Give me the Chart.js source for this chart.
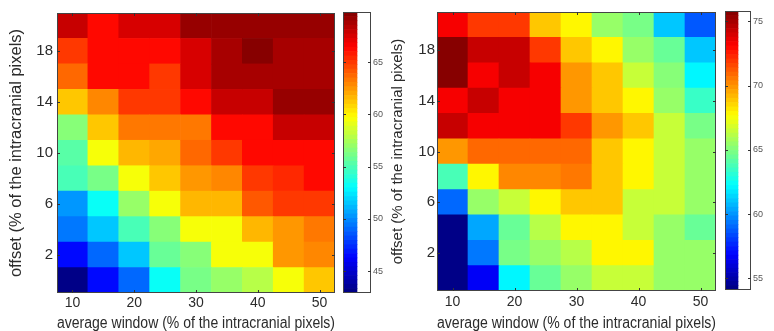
<!DOCTYPE html>
<html>
<head>
<meta charset="utf-8">
<script src="https://cdn.jsdelivr.net/npm/chart.js@4.4.1/dist/chart.umd.min.js"></script>
<style>
  html, body { margin: 0; padding: 0; background: #ffffff; }
  #wrap { position: relative; width: 774px; height: 331px; overflow: hidden; background: #fff; }
  canvas { position: absolute; top: 0; }
</style>
</head>
<body>
<div id="wrap">
  <canvas id="hmL" width="340" height="331" style="left:0px"></canvas>
  <canvas id="cbL" width="45" height="331" style="left:340px"></canvas>
  <canvas id="hmR" width="335" height="331" style="left:385px"></canvas>
  <canvas id="cbR" width="54" height="331" style="left:720px"></canvas>
</div>
<script>
// ---------- data ----------
const xCats = [10, 15, 20, 25, 30, 35, 40, 45, 50];          // average window (%)
const yRows = [0, 2, 4, 6, 8, 10, 12, 14, 16, 18, 20];       // offset (%)
const xTickLabels = [10, 20, 30, 40, 50];
const yTickLabels = [2, 6, 10, 14, 18];

// left panel values, rows from offset 0 (bottom) to 20 (top)
const leftValues = [
  [43.0, 46.3, 49.0, 53.0, 56.0, 57.0, 58.0, 59.7, 61.2],
  [46.3, 49.0, 51.7, 55.7, 56.7, 59.7, 59.7, 62.4, 62.8],
  [49.3, 51.4, 54.7, 56.7, 59.7, 59.7, 61.4, 62.4, 63.4],
  [50.3, 53.0, 57.0, 59.7, 61.4, 61.4, 64.0, 64.8, 64.8],
  [55.0, 56.0, 59.7, 61.2, 62.4, 62.8, 64.8, 65.2, 66.4],
  [55.4, 59.7, 61.4, 62.0, 63.7, 64.8, 66.4, 66.4, 66.4],
  [56.4, 61.2, 63.4, 63.4, 63.4, 66.4, 66.4, 67.8, 67.8],
  [61.2, 62.9, 64.8, 64.8, 66.2, 67.8, 67.8, 69.0, 69.0],
  [63.7, 66.4, 66.4, 64.8, 67.5, 68.8, 68.8, 68.8, 68.8],
  [64.8, 66.4, 66.4, 66.4, 67.5, 68.8, 69.5, 68.8, 68.8],
  [67.8, 66.4, 67.5, 67.5, 69.3, 69.0, 69.0, 69.0, 69.0]
];
const leftRange = [42.9, 69.8];
const leftBarTicks = [45, 50, 55, 60, 65];

// right panel values, rows from offset 0 (bottom) to 20 (top)
const rightValues = [
  [54.1, 56.8, 62.2, 64.4, 65.5, 66.4, 66.4, 65.3, 65.3],
  [54.1, 59.5, 64.8, 65.5, 66.1, 67.7, 67.7, 65.3, 65.5],
  [54.1, 60.4, 64.4, 66.1, 67.7, 67.7, 66.4, 65.3, 64.6],
  [58.9, 65.5, 66.4, 67.7, 69.0, 69.0, 66.4, 66.4, 65.3],
  [63.6, 67.7, 70.1, 70.1, 70.4, 68.8, 67.7, 66.4, 65.3],
  [69.7, 71.0, 71.0, 71.0, 71.0, 68.8, 67.7, 66.4, 65.3],
  [74.2, 73.1, 73.1, 73.1, 71.8, 70.0, 68.8, 66.4, 64.8],
  [73.1, 74.2, 73.1, 73.1, 70.0, 68.8, 67.7, 65.3, 63.3],
  [75.5, 73.1, 74.2, 73.1, 70.0, 68.8, 66.4, 65.0, 62.2],
  [75.5, 74.2, 74.2, 71.8, 68.8, 67.7, 65.3, 64.6, 60.9],
  [73.1, 71.8, 71.8, 68.8, 67.7, 65.5, 64.8, 60.9, 58.7]
];
const rightRange = [54.1, 75.8];
const rightBarTicks = [55, 60, 65, 70, 75];

const xTitle = 'average window (% of the intracranial pixels)';
const yTitle = 'offset (% of the intracranial pixels)';

// ---------- helpers ----------
const NLEV = 64;
const FONT = "'Liberation Sans', Arial, sans-serif";
const TXT = '#2b2b2b';
function clamp01(v) { return Math.max(0, Math.min(1, v)); }
function jetColor(idx) {
  const t = (idx + 0.5) / NLEV;
  const r = clamp01(1.5 - Math.abs(4 * t - 3));
  const g = clamp01(1.5 - Math.abs(4 * t - 2));
  const b = clamp01(1.5 - Math.abs(4 * t - 1));
  return `rgb(${Math.round(r * 255)},${Math.round(g * 255)},${Math.round(b * 255)})`;
}
function colorFor(v, range) {
  let idx = Math.floor((v - range[0]) / (range[1] - range[0]) * NLEV);
  idx = Math.max(0, Math.min(NLEV - 1, idx));
  return jetColor(idx);
}

const framePlugin = {
  id: 'frame',
  afterDraw(chart, args, opts) {
    const { ctx, chartArea: a } = chart;
    ctx.save();
    ctx.strokeStyle = '#444';
    ctx.lineWidth = 1;
    ctx.strokeRect(Math.round(a.left) + 0.5, Math.round(a.top) + 0.5,
                   Math.round(a.right - a.left) - 1, Math.round(a.bottom - a.top) - 1);
    ctx.strokeStyle = '#333';
    const L = 3;
    const xs = chart.scales.x;
    if (xs && xs.options.display !== false && opts.xTicks) {
      xCats.forEach((c, i) => {
        if (!xTickLabels.includes(c)) return;
        const px = Math.round(xs.getPixelForTick(i)) + 0.5;
        ctx.beginPath();
        ctx.moveTo(px, a.bottom); ctx.lineTo(px, a.bottom - L);
        ctx.moveTo(px, a.top); ctx.lineTo(px, a.top + L);
        ctx.stroke();
      });
    }
    const ys = chart.scales.y;
    (opts.yTickVals || []).forEach(v => {
      const py = Math.round(ys.getPixelForValue(v)) + 0.5;
      ctx.beginPath();
      ctx.moveTo(a.left, py); ctx.lineTo(a.left + L, py);
      ctx.moveTo(a.right, py); ctx.lineTo(a.right - L, py);
      ctx.stroke();
    });
    ctx.restore();
  }
};

function heatmap(id, values, range, cfg) {
  const datasets = yRows.map((y, r) => ({
    data: xCats.map(() => [y - 1, y + 1]),
    backgroundColor: values[r].map(v => colorFor(v, range)),
    borderWidth: 0,
    grouped: false,
    barPercentage: 1,
    categoryPercentage: 1
  }));
  return new Chart(document.getElementById(id), {
    type: 'bar',
    data: { labels: xCats.map(String), datasets },
    plugins: [framePlugin],
    options: {
      responsive: false,
      animation: false,
      devicePixelRatio: 1,
      layout: { padding: { top: cfg.top, right: cfg.right, left: 0, bottom: 0 } },
      plugins: {
        legend: { display: false },
        tooltip: { enabled: false },
        frame: { xTicks: true, yTickVals: yTickLabels }
      },
      scales: {
        x: {
          type: 'category',
          grid: { display: false, drawTicks: false },
          border: { display: false },
          ticks: {
            autoSkip: false, maxRotation: 0, padding: cfg.xPad,
            color: TXT, font: { family: FONT, size: 14 },
            callback: (val, i) => xTickLabels.includes(xCats[i]) ? String(xCats[i]) : ''
          },
          title: { display: true, text: xTitle, color: TXT,
                   font: { family: FONT, size: 16 }, padding: { top: 0, bottom: -2 } },
          afterFit: s => { s.height = cfg.xH; }
        },
        y: {
          type: 'linear', min: -1, max: 21,
          grid: { display: false, drawTicks: false },
          border: { display: false },
          afterBuildTicks: s => { s.ticks = yTickLabels.map(v => ({ value: v })); },
          ticks: { padding: cfg.yPad, color: TXT, font: { family: FONT, size: 15 } },
          title: { display: true, text: yTitle, color: TXT,
                   font: { family: FONT, size: cfg.yTitleSize }, padding: { top: cfg.yTitlePad, bottom: 0 } },
          afterFit: s => { s.width = cfg.yW; }
        }
      }
    }
  });
}

function colorbar(id, range, ticks, cfg) {
  const step = (range[1] - range[0]) / NLEV;
  const datasets = [];
  for (let i = 0; i < NLEV; i++) {
    datasets.push({
      data: [[range[0] + i * step, range[0] + (i + 1) * step]],
      backgroundColor: jetColor(i),
      borderWidth: 0, grouped: false, barPercentage: 1, categoryPercentage: 1
    });
  }
  return new Chart(document.getElementById(id), {
    type: 'bar',
    data: { labels: [''], datasets },
    plugins: [framePlugin],
    options: {
      responsive: false,
      animation: false,
      devicePixelRatio: 1,
      layout: { padding: { top: cfg.top, bottom: cfg.bottom, left: cfg.left, right: 0 } },
      plugins: { legend: { display: false }, tooltip: { enabled: false },
                 frame: { xTicks: false, yTickVals: ticks } },
      scales: {
        x: { display: false, offset: false },
        y: {
          position: 'right', min: range[0], max: range[1],
          grid: { display: false, drawTicks: false },
          border: { display: false },
          afterBuildTicks: s => { s.ticks = ticks.map(v => ({ value: v })); },
          ticks: { padding: 2, color: '#555', font: { family: FONT, size: 9 } },
          afterFit: s => { s.width = cfg.yW; }
        }
      }
    }
  });
}

heatmap('hmL', leftValues, leftRange,
  { top: 12, right: 5, xH: 38, yW: 57, xPad: 2, yPad: 4, yTitleSize: 16.5, yTitlePad: 7 });
colorbar('cbL', leftRange, leftBarTicks, { top: 12, bottom: 38, left: 3, yW: 14 });
heatmap('hmR', rightValues, rightRange,
  { top: 12, right: 4, xH: 40, yW: 52, xPad: 3, yPad: 2, yTitleSize: 15, yTitlePad: 4 });
colorbar('cbR', rightRange, rightBarTicks, { top: 11, bottom: 41, left: 5, yW: 23 });
</script>
</body>
</html>
